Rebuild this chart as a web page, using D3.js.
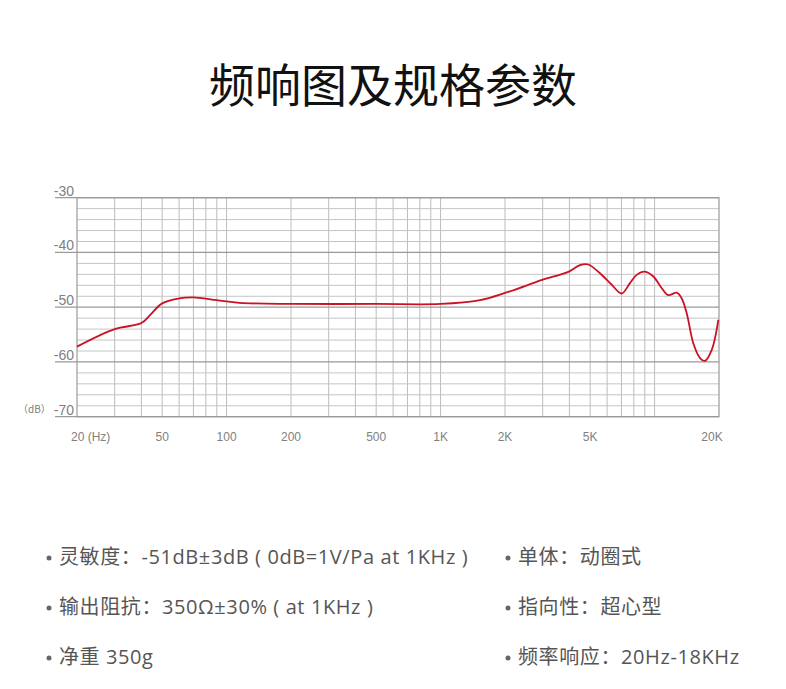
<html>
<head>
<meta charset="utf-8">
<style type="text/css">
	body { margin: 0; background: #fff; }
</style>
<script src="https://cdn.jsdelivr.net/npm/d3@7/dist/d3.min.js"></script>
</head>
<body>
<div id="chart"></div>
<script>

// frequency response (Hz, dB)
var freqs = [20, 30, 40, 44, 50, 60, 70, 90, 115, 200, 500, 1000, 1530, 2000, 2620, 2980, 3980,
             4483, 4900, 5560, 6305, 7015, 7676, 8246, 9020, 9866, 10790, 11590, 12690, 13390,
             14130, 15170, 16300, 17200, 18500, 19860];
var levels = [-57.2, -54.0, -52.9, -51.4, -49.3, -48.4, -48.2, -48.7, -49.2, -49.4, -49.4, -49.4, -48.7, -47.4, -45.8, -45.0, -43.5,
              -42.3, -42.2, -43.8, -45.9, -47.5, -45.6, -44.1, -43.5, -44.4, -46.5, -47.8, -47.35, -48.4,
              -51.1, -56.6, -59.3, -59.8, -57.8, -52.3];

var xTickValues = [20, 50, 100, 200, 500, 1000, 2000, 5000, 20000];
var xTickLabels = ["20 (Hz)", "50", "100", "200", "500", "1K", "2K", "5K", "20K"];
var yTickValues = [-30, -40, -50, -60, -70];

var specsLeft = ["灵敏度：-51dB±3dB ( 0dB=1V/Pa at 1KHz )", "输出阻抗：350Ω±30% ( at 1KHz )", "净重 350g"];
var specsRight = ["单体：动圈式", "指向性：超心型", "频率响应：20Hz-18KHz"];

var cjk = "'Noto Sans CJK SC', sans-serif";
var latin = "'Liberation Sans', Arial, sans-serif";
var specFont = "'Open Sans', 'Noto Sans CJK SC', sans-serif";

var width = 786, height = 689;
var svg = d3.select("#chart").append("svg")
            .attr("width", width)
            .attr("height", height);

svg.append("text")
   .attr("x", 393).attr("y", 102)
   .attr("text-anchor", "middle")
   .attr("font-family", cjk)
   .attr("font-size", 46)
   .attr("fill", "#111")
   .text("频响图及规格参数");

var x = d3.scaleLog().domain([20, 20000]).range([77, 719]);
var y = d3.scaleLinear().domain([-70, -30]).range([416.7, 197.7]);

// vertical grid: 30..100 by 10, 200..1000 by 100, 2000..10000 by 1000
var vLines = [];
[10, 100, 1000].forEach(function(dec) {
	for (var k = 2; k <= 10; k++) {
		var f = k * dec;
		if (f > 20 && vLines.indexOf(f) < 0) vLines.push(f);
	}
});

svg.append("g").selectAll("line")
   .data(vLines)
   .enter().append("line")
   .attr("x1", function(d) { return x(d); })
   .attr("x2", function(d) { return x(d); })
   .attr("y1", y(-30)).attr("y2", y(-70))
   .attr("stroke", "#bcbcbc")
   .attr("stroke-width", 1);

// horizontal grid every 2 dB
var hLines = d3.range(-68, -30, 2).filter(function(d) { return d % 10 !== 0; });
svg.append("g").selectAll("line")
   .data(hLines)
   .enter().append("line")
   .attr("x1", x(20)).attr("x2", x(20000))
   .attr("y1", function(d) { return y(d); })
   .attr("y2", function(d) { return y(d); })
   .attr("stroke", "#c4c4c4")
   .attr("stroke-width", 1);

svg.append("g").selectAll("line")
   .data(yTickValues)
   .enter().append("line")
   .attr("x1", 55).attr("x2", x(20000))
   .attr("y1", function(d) { return y(d); })
   .attr("y2", function(d) { return y(d); })
   .attr("stroke", "#9a9a9a")
   .attr("stroke-width", 1.2);

svg.append("rect")
   .attr("x", x(20)).attr("y", y(-30))
   .attr("width", x(20000) - x(20))
   .attr("height", y(-70) - y(-30))
   .attr("fill", "none")
   .attr("stroke", "#9a9a9a")
   .attr("stroke-width", 1.2);

svg.append("g").selectAll("text")
   .data(yTickValues)
   .enter().append("text")
   .attr("x", 74)
   .attr("y", function(d) { return y(d) - 2; })
   .attr("text-anchor", "end")
   .attr("font-family", latin)
   .attr("font-size", 14)
   .attr("fill", "#808080")
   .text(function(d) { return d; });

svg.append("text")
   .attr("x", 18).attr("y", 413)
   .attr("font-family", cjk)
   .attr("font-size", 10)
   .attr("fill", "#808080")
   .text("（dB）");

svg.append("g").selectAll("text")
   .data(xTickValues)
   .enter().append("text")
   .attr("x", function(d, i) {
   	if (i === 0) return x(d) - 6;
   	if (d === 20000) return x(d) - 7;
   	return x(d);
   })
   .attr("y", 441)
   .attr("text-anchor", function(d, i) { return i === 0 ? "start" : "middle"; })
   .attr("font-family", latin)
   .attr("font-size", 12)
   .attr("fill", "#808080")
   .text(function(d, i) { return xTickLabels[i]; });

var points = freqs.map(function(f, i) { return [f, levels[i]]; });
var line = d3.line()
             .x(function(d) { return x(d[0]); })
             .y(function(d) { return y(d[1]); })
             .curve(d3.curveCatmullRom.alpha(0.5));

svg.append("path")
   .datum(points)
   .attr("d", line)
   .attr("fill", "none")
   .attr("stroke", "#cc1122")
   .attr("stroke-width", 1.8);

function specList(items, x0) {
	var g = svg.append("g");
	items.forEach(function(t, i) {
		var yy = 564 + i * 50;
		g.append("circle").attr("cx", x0).attr("cy", yy - 6).attr("r", 2.5).attr("fill", "#666");
		g.append("text")
		 .attr("x", x0 + 10).attr("y", yy)
		 .attr("font-family", specFont)
		 .attr("font-size", 20)
		 .attr("letter-spacing", 0.6)
		 .attr("fill", "#555")
		 .text(t);
	});
}
specList(specsLeft, 49);
specList(specsRight, 508);

</script>
</body>
</html>
